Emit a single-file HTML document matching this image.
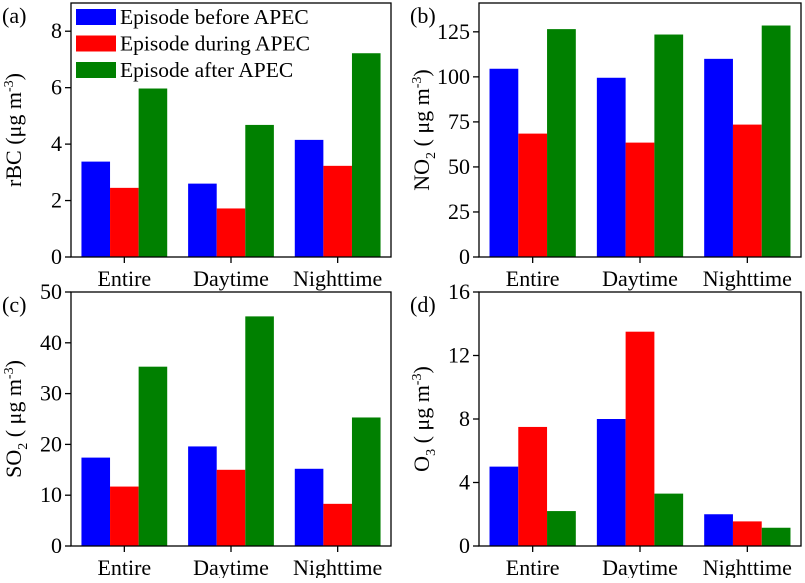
<!DOCTYPE html>
<html><head><meta charset="utf-8"><style>
body{margin:0;background:#fff;}
svg text{font-family:"Liberation Serif",serif;fill:#000;}
</style></head><body>
<svg id="chart" width="805" height="578" xmlns="http://www.w3.org/2000/svg"></svg>
<script>
const categories = ["Entire","Daytime","Nighttime"];
const seriesNames = ["Episode before APEC","Episode during APEC","Episode after APEC"];
const rbcBefore = [3.38,2.6,4.15];
const rbcDuring = [2.45,1.72,3.23];
const rbcAfter = [5.97,4.68,7.22];
const no2Before = [104.5,99.5,110];
const no2During = [68.5,63.5,73.5];
const no2After = [126.5,123.5,128.5];
const so2Before = [17.4,19.6,15.2];
const so2During = [11.7,15.0,8.3];
const so2After = [35.3,45.2,25.3];
const o3Before = [5.0,8.0,2.0];
const o3During = [7.5,13.5,1.55];
const o3After = [2.2,3.3,1.15];
const rbcTicks = [0,2,4,6,8];
const no2Ticks = [0,25,50,75,100,125];
const so2Ticks = [0,10,20,30,40,50];
const o3Ticks = [0,4,8,12,16];
const colors = ["#0000ff","#ff0000","#008000"];
const NS="http://www.w3.org/2000/svg";
const svg=document.getElementById('chart');
function mk(tag,attrs,parent){const e=document.createElementNS(NS,tag);for(const k in attrs)e.setAttribute(k,attrs[k]);(parent||svg).appendChild(e);return e;}
function panel(id,L,R,T,B,max,ticks,series,label,ylabel){
  const g=mk('g',{});
  
  
  const y=v=>B-(v/max)*(B-T);
  const bw=(R-L)/3;
  const barW=bw*0.268;
  series.forEach((s,si)=>{s.forEach((v,ci)=>{
    const cx=L+bw*(ci+0.5);
    const r=mk('rect',{x:cx-1.5*barW+si*barW,y:y(v),width:barW,height:B-y(v),fill:colors[si]},g);
    
    
  });});
  const fr=mk('rect',{x:L,y:T,width:R-L,height:B-T,fill:'none',stroke:'#000','stroke-width':1.3},g);
  
  
  ticks.forEach(t=>{
    mk('line',{x1:L-6,x2:L,y1:y(t),y2:y(t),stroke:'#000','stroke-width':1.3},g);
    const tx=mk('text',{x:L-9,y:y(t)+7,'text-anchor':'end','font-size':22},g);
    tx.textContent=t;
    
    
  });
  categories.forEach((c,ci)=>{
    const cx=L+bw*(ci+0.5);
    mk('line',{x1:cx,x2:cx,y1:B,y2:B+6,stroke:'#000','stroke-width':1.3},g);
    const tx=mk('text',{x:cx,y:B+29,'text-anchor':'middle','font-size':22},g);
    tx.textContent=c;
    
    
  });
  const pl=mk('text',{x:L-69,y:T+20,'font-size':22},g);
  pl.textContent=label;
  
  
  const yt=mk('text',{transform:`translate(${L-50},${(T+B)/2}) rotate(-90)`,'text-anchor':'middle','font-size':22},g);
  yt.innerHTML=ylabel;
  
  
}
panel('a',71,391,3,257,9,rbcTicks,[rbcBefore,rbcDuring,rbcAfter],'(a)','rBC (μg m<tspan dy="-8" font-size="14">-3</tspan><tspan dy="8">)</tspan>');
panel('b',479,801,3,257,141,no2Ticks,[no2Before,no2During,no2After],'(b)','NO<tspan dy="6" font-size="14">2</tspan><tspan dy="-6"> ( μg m</tspan><tspan dy="-8" font-size="14">-3</tspan><tspan dy="8">)</tspan>');
panel('c',71,391,292,546,50,so2Ticks,[so2Before,so2During,so2After],'(c)','SO<tspan dy="6" font-size="14">2</tspan><tspan dy="-6"> ( μg m</tspan><tspan dy="-8" font-size="14">-3</tspan><tspan dy="8">)</tspan>');
panel('d',479,801,292,546,16,o3Ticks,[o3Before,o3During,o3After],'(d)','O<tspan dy="6" font-size="14">3</tspan><tspan dy="-6"> ( μg m</tspan><tspan dy="-8" font-size="14">-3</tspan><tspan dy="8">)</tspan>');
const lg=mk('g',{});


seriesNames.forEach((n,i)=>{
  const yy=9+i*26.5;
  const sw=mk('rect',{x:76,y:yy,width:40,height:16,fill:colors[i]},lg);
  
  
  const t=mk('text',{x:120,y:yy+15,'font-size':21.5},lg);
  t.textContent=n;
  
  
});
</script>
</body></html>
